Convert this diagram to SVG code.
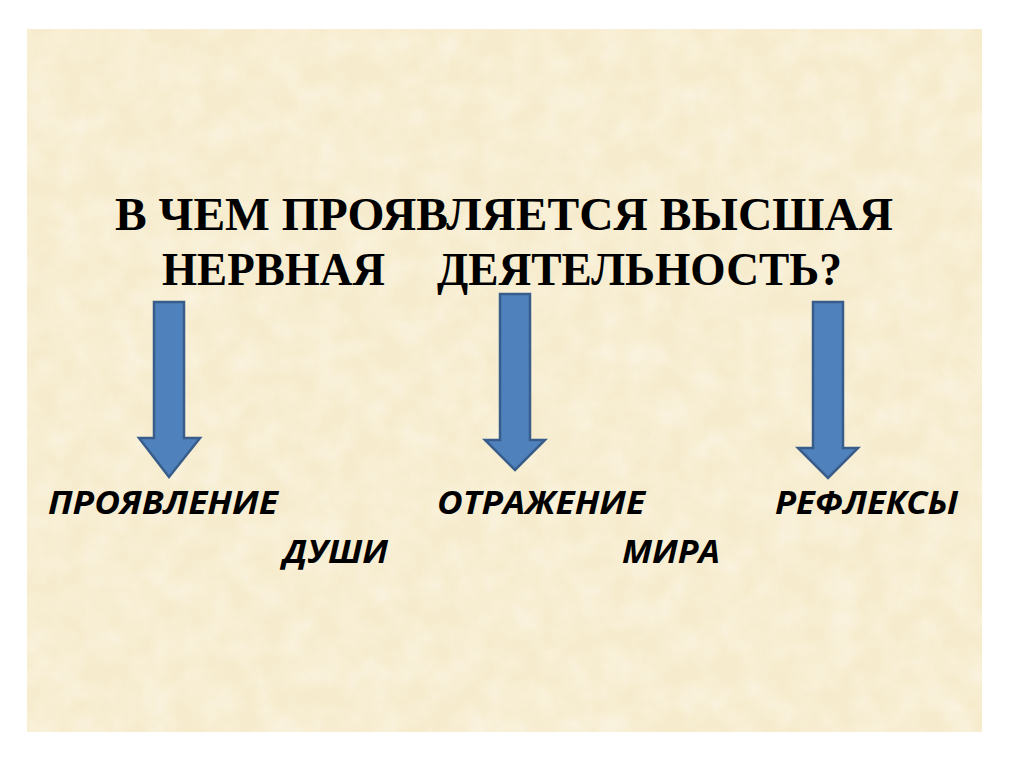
<svg xmlns="http://www.w3.org/2000/svg" width="1024" height="767" viewBox="0 0 1024 767">
  <style>
    .title { font-family: "Liberation Serif", "Times New Roman", serif; font-weight: bold; font-size: 47px; fill: #000; }
    .label { font-family: "Open Sans", "Noto Sans", sans-serif; font-weight: bold; font-style: italic; font-size: 32px; fill: #000; }
    .arrow { fill: #4f81bd; stroke: #385d8a; stroke-width: 2.5; stroke-linejoin: miter; }
  </style>
  <defs>
    <filter id="paper" x="0" y="0" width="100%" height="100%">
      <feTurbulence type="fractalNoise" baseFrequency="0.035" numOctaves="4" seed="7" result="n"/>
      <feColorMatrix in="n" type="matrix" values="0 0 0 0 0.98  0 0 0 0 0.95  0 0 0 0 0.86  0 0 0 -1.4 1.0"/>
    </filter>
  </defs>
  <rect x="0" y="0" width="1024" height="767" fill="#ffffff"/>
  <g id="background">
    <rect x="27" y="29" width="955" height="703" fill="#f6ebcc"/>
    <rect x="27" y="29" width="955" height="703" fill="#f6ebcc" filter="url(#paper)" opacity="0.6"/>
  </g>
  <g id="title">
    <text class="title" x="115" y="230" textLength="778" lengthAdjust="spacingAndGlyphs">В ЧЕМ ПРОЯВЛЯЕТСЯ ВЫСШАЯ</text>
    <text class="title" x="162" y="285" textLength="223" lengthAdjust="spacingAndGlyphs">НЕРВНАЯ</text>
    <text class="title" x="437" y="285" textLength="405" lengthAdjust="spacingAndGlyphs">ДЕЯТЕЛЬНОСТЬ?</text>
  </g>
  <g id="connectors">
    <polygon class="arrow" points="154,302 184,302 184,438 200,438 169,477 139,438 154,438"/>
    <polygon class="arrow" points="500,294 530,294 530,440 545,440 515,470 485,440 500,440"/>
    <polygon class="arrow" points="813,302 843,302 843,448 858,448 828,478 798,448 813,448"/>
  </g>
  <g id="node-soul">
    <text class="label" x="48" y="514" textLength="230" lengthAdjust="spacingAndGlyphs">ПРОЯВЛЕНИЕ</text>
    <text class="label" x="283" y="563" textLength="105" lengthAdjust="spacingAndGlyphs">ДУШИ</text>
  </g>
  <g id="node-world">
    <text class="label" x="437" y="514" textLength="208" lengthAdjust="spacingAndGlyphs">ОТРАЖЕНИЕ</text>
    <text class="label" x="622" y="563" textLength="98" lengthAdjust="spacingAndGlyphs">МИРА</text>
  </g>
  <g id="node-reflexes">
    <text class="label" x="775" y="514" textLength="183" lengthAdjust="spacingAndGlyphs">РЕФЛЕКСЫ</text>
  </g>
</svg>
